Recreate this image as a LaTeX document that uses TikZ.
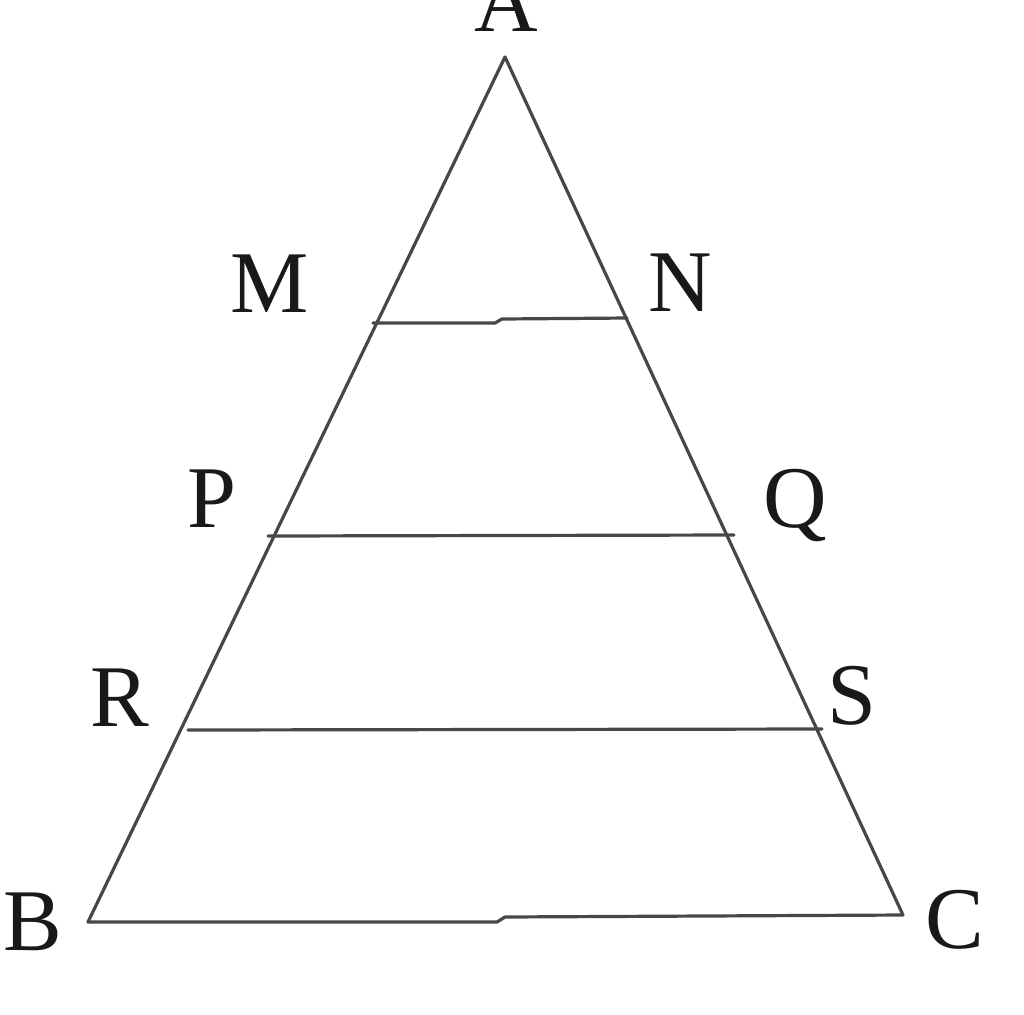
\documentclass[tikz,border=0pt]{standalone}
\usepackage{fontspec}
\setmainfont{Liberation Serif}
\begin{document}
\begin{tikzpicture}[x=0.5pt,y=-0.5pt,
  seg/.style={draw=black!72,line width=1.6pt,line cap=round,line join=round},
  lab/.style={anchor=base,inner sep=0pt,text=black!90,font=\fontsize{44}{44}\selectfont}]
\useasboundingbox (0,0) rectangle (1024,1014);
\coordinate (A) at (505,57);
\coordinate (B) at (88,922);
\coordinate (C) at (903,915);
\coordinate (M) at (373,323);
\coordinate (N) at (627,318);
\coordinate (P) at (268,536);
\coordinate (Q) at (734,535);
\coordinate (R) at (188,730);
\coordinate (S) at (822,729);
\coordinate (MN1) at (495,323);
\coordinate (MN2) at (502,319);
\coordinate (BC1) at (497,922);
\coordinate (BC2) at (505,917);
\draw[seg] (B) -- (A) -- (C);
\draw[seg] (M) -- (MN1) -- (MN2) -- (N);
\draw[seg] (P) -- (Q);
\draw[seg] (R) -- (S);
\draw[seg] (B) -- (BC1) -- (BC2) -- (C);
\node[lab] (lA) at (506,31) {A};
\node[lab] (lM) at (270,312) {M};
\node[lab] (lN) at (680,311) {N};
\node[lab] (lP) at (212,527) {P};
\node[lab] (lQ) at (795,527) {Q};
\node[lab] (lR) at (120,726) {R};
\node[lab] (lS) at (852,724) {S};
\node[lab] (lB) at (33,950) {B};
\node[lab] (lC) at (955,948) {C};
\end{tikzpicture}
\end{document}
